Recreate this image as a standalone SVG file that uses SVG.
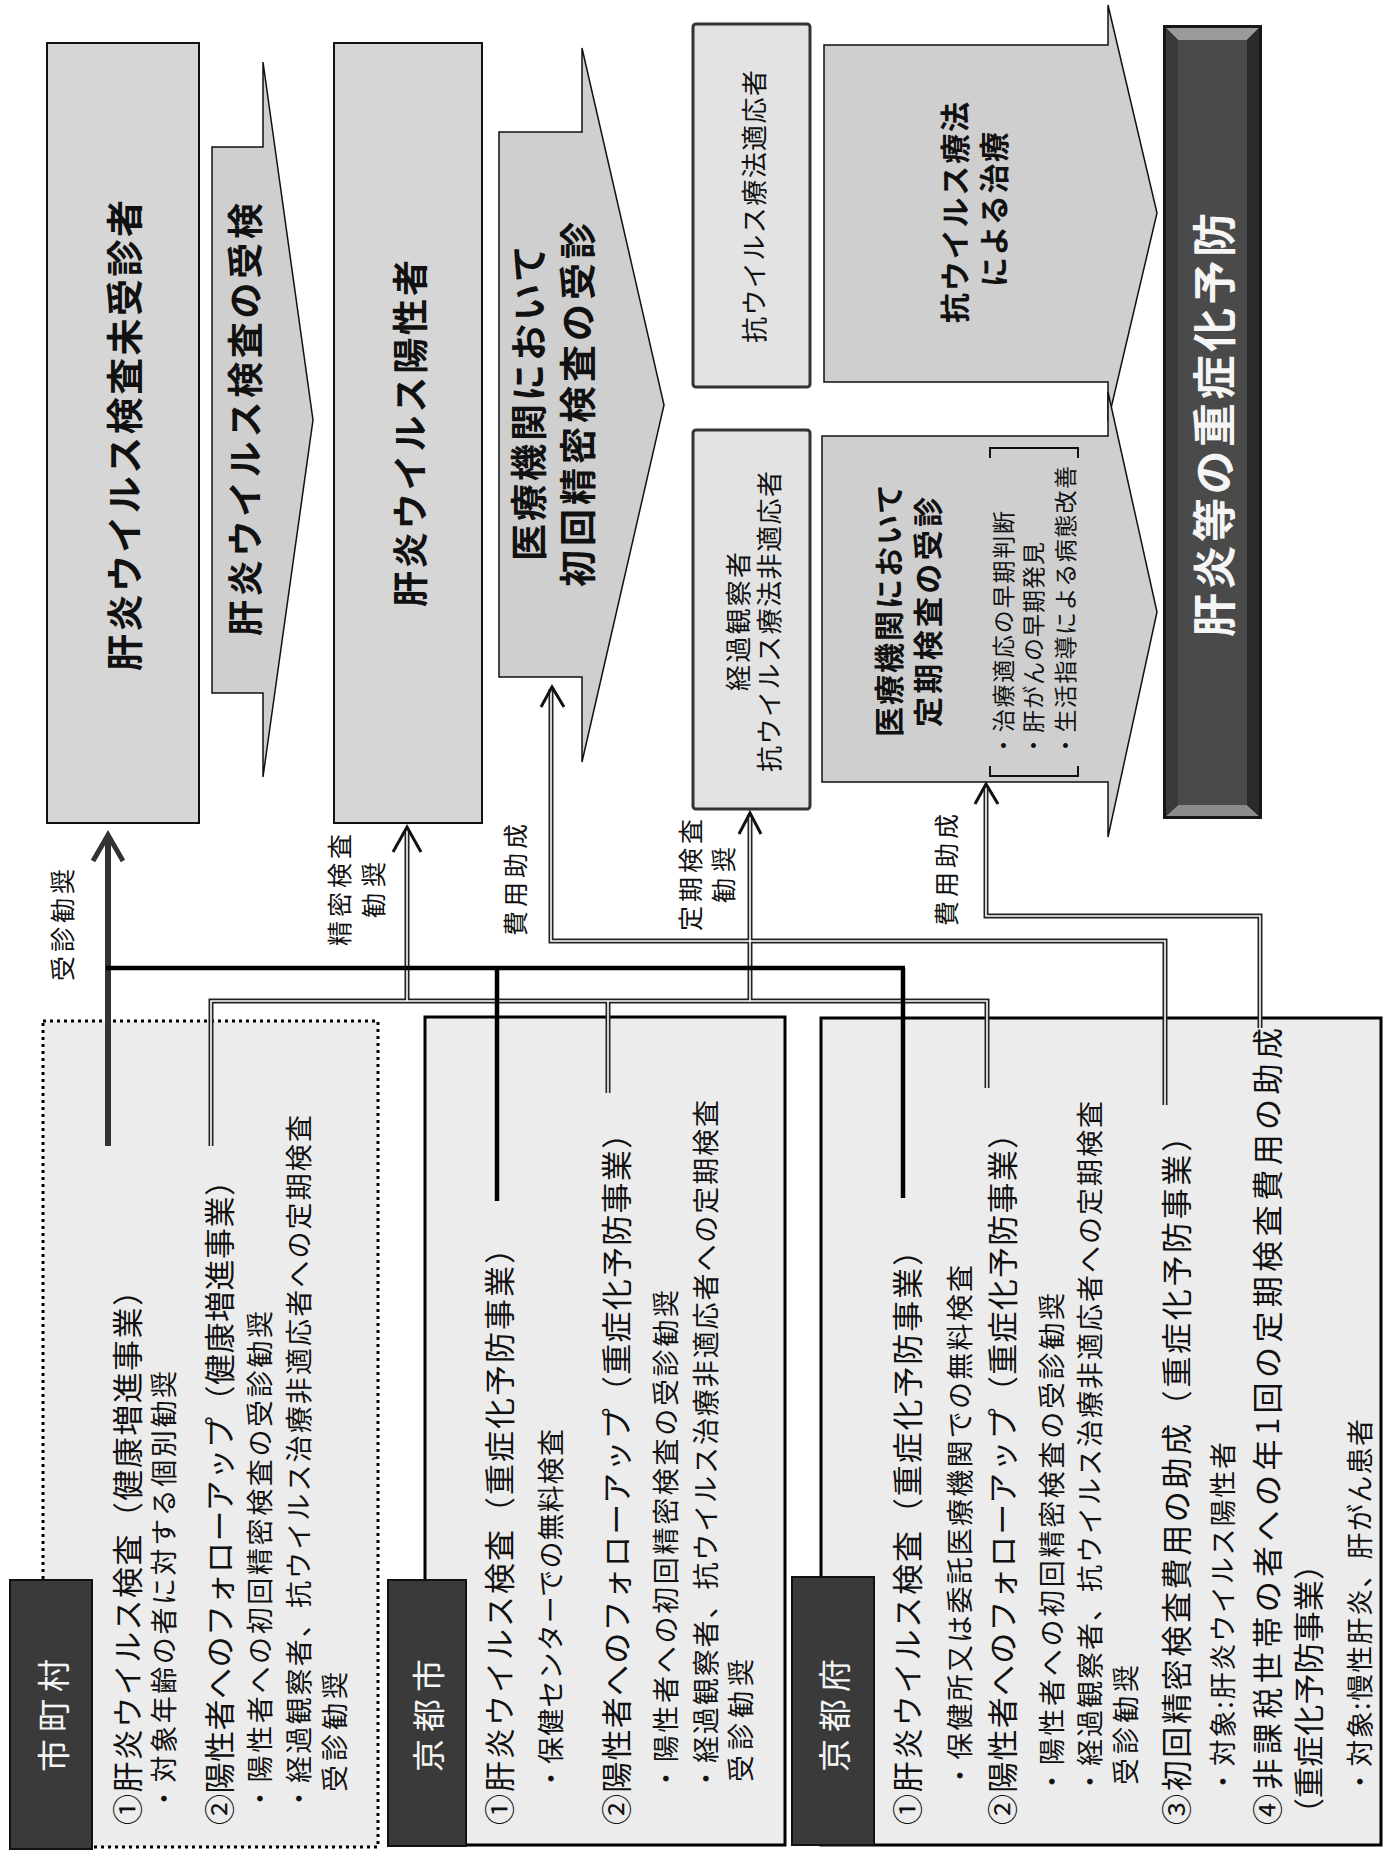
<svg xmlns="http://www.w3.org/2000/svg" width="1392" height="1856" viewBox="0 0 1392 1856">
<style>
.t{font-family:"Noto Sans CJK JP","Noto Sans",sans-serif;dominant-baseline:central;fill:#111}
.b{font-weight:bold}
.w{fill:#f5f5f5}
.flow{fill:#d6d6d6;stroke:#111;stroke-width:2}
.flow2{fill:#cfcfcf;stroke:#111;stroke-width:1.5}
.sm{fill:#e3e3e3;stroke:#333;stroke-width:3}
.bx{fill:#ececec;stroke:#000;stroke-width:3}
.tab{fill:#3a3a3a;stroke:#111;stroke-width:2}
.dbl{fill:none;stroke:#222;stroke-width:5}
.dblin{fill:none;stroke:#fff;stroke-width:1.6}
.ah{fill:none;stroke:#111;stroke-width:3;stroke-linejoin:miter}
</style>
<rect width="1392" height="1856" fill="#fff"/>

<!-- flow nodes -->
<g id="node-misyushin">
<rect class="flow" x="47" y="43" width="152" height="780"/>
<text class="t b" font-size="37" textLength="471" transform="translate(123,671) rotate(-90)">肝炎ウイルス検査未受診者</text>
</g>
<g id="node-jyuken">
<polygon class="flow2" points="212,147 263,147 263,62 313,420 263,777 263,693 212,693"/>
<text class="t b" font-size="36" textLength="433" transform="translate(243,636) rotate(-90)">肝炎ウイルス検査の受検</text>
</g>
<g id="node-yousei">
<rect class="flow" x="334" y="43" width="148" height="780"/>
<text class="t b" font-size="36" textLength="347" transform="translate(408,607) rotate(-90)">肝炎ウイルス陽性者</text>
</g>
<g id="node-shokai">
<polygon class="flow2" points="499,132 582,132 582,48 664,405 582,762 582,677 499,677"/>
<text class="t b" font-size="37" textLength="316" transform="translate(527,561) rotate(-90)">医療機関において</text>
<text class="t b" font-size="37" textLength="365" transform="translate(576,587) rotate(-90)">初回精密検査の受診</text>
</g>
<g id="node-tekiou">
<rect class="sm" x="693" y="24" width="117" height="363" rx="3"/>
<text class="t" font-size="26" textLength="273" transform="translate(752,343) rotate(-90)">抗ウイルス療法適応者</text>
</g>
<g id="node-hitekiou">
<rect class="sm" x="693" y="430" width="117" height="379" rx="3"/>
<text class="t" font-size="26" textLength="139" transform="translate(736,691) rotate(-90)">経過観察者</text>
<text class="t" font-size="26" textLength="301" transform="translate(767,772) rotate(-90)">抗ウイルス療法非適応者</text>
</g>
<g id="node-chiryo">
<polygon class="flow2" fill="#d8d8d8" points="824,45 1108,45 1108,5 1157,213 1108,421 1108,382 824,382"/>
<text class="t b" font-size="30" textLength="221" transform="translate(953,323) rotate(-90)">抗ウイルス療法</text>
<text class="t b" font-size="30" textLength="155" transform="translate(992,287) rotate(-90)">による治療</text>
</g>
<g id="node-teiki">
<polygon class="flow2" fill="#d8d8d8" points="822,436 1108,436 1108,392 1157,612 1108,837 1108,782 822,782"/>
<text class="t b" font-size="30" textLength="253" transform="translate(887,737) rotate(-90)">医療機関において</text>
<text class="t b" font-size="30" textLength="230" transform="translate(926,727) rotate(-90)">定期検査の受診</text>
<path d="M990,458 V448 H1078 V458 M990,766 V776 H1078 V766" fill="none" stroke="#111" stroke-width="2"/>
<text class="t" font-size="23" textLength="246" transform="translate(1002,757) rotate(-90)">・治療適応の早期判断</text>
<text class="t" font-size="23" textLength="215" transform="translate(1032,757) rotate(-90)">・肝がんの早期発見</text>
<text class="t" font-size="23" textLength="291" transform="translate(1064,757) rotate(-90)">・生活指導による病態改善</text>
</g>
<g id="node-goal">
<rect x="1163" y="25" width="99" height="794" fill="#161616"/>
<polygon points="1166,28 1259,28 1247,40 1178,40" fill="#9a9a9a"/>
<polygon points="1166,816 1259,816 1247,805 1178,805" fill="#8c8c8c"/>
<polygon points="1166,28 1178,40 1178,805 1166,816" fill="#3a3a3a"/>
<polygon points="1259,28 1247,40 1247,805 1259,816" fill="#2a2a2a"/>
<rect x="1178" y="40" width="69" height="765" fill="#4a4a4a"/>
<text class="t b w" font-size="44" textLength="424" transform="translate(1212,637) rotate(-90)">肝炎等の重症化予防</text>
</g>

<!-- bottom boxes -->
<g id="node-shichoson">
<rect class="bx" x="43" y="1021" width="335" height="826" stroke-dasharray="3 4"/>
<text class="t" font-size="31" textLength="550" transform="translate(125,1825) rotate(-90)">①肝炎ウイルス検査（健康増進事業）</text>
<text class="t" font-size="27" textLength="441" transform="translate(162,1812) rotate(-90)">・対象年齢の者に対する個別勧奨</text>
<text class="t" font-size="31" textLength="660" transform="translate(217,1825) rotate(-90)">②陽性者へのフォローアップ（健康増進事業）</text>
<text class="t" font-size="27" textLength="501" transform="translate(258,1812) rotate(-90)">・陽性者への初回精密検査の受診勧奨</text>
<text class="t" font-size="27" textLength="697" transform="translate(297,1812) rotate(-90)">・経過観察者、抗ウイルス治療非適応者への定期検査</text>
<text class="t" font-size="27" textLength="120" transform="translate(333,1792) rotate(-90)">受診勧奨</text>
<rect class="tab" x="10" y="1580" width="82" height="269"/>
<text class="t w" font-size="33" textLength="113" transform="translate(52,1772) rotate(-90)">市町村</text>
</g>
<g id="node-kyotoshi">
<rect class="bx" x="425" y="1017" width="360" height="828"/>
<text class="t" font-size="31" textLength="592" transform="translate(497,1825) rotate(-90)">①肝炎ウイルス検査（重症化予防事業）</text>
<text class="t" font-size="27" textLength="363" transform="translate(549,1792) rotate(-90)">・保健センターでの無料検査</text>
<text class="t" font-size="31" textLength="707" transform="translate(614,1825) rotate(-90)">②陽性者へのフォローアップ（重症化予防事業）</text>
<text class="t" font-size="27" textLength="502" transform="translate(664,1792) rotate(-90)">・陽性者への初回精密検査の受診勧奨</text>
<text class="t" font-size="27" textLength="692" transform="translate(704,1792) rotate(-90)">・経過観察者、抗ウイルス治療非適応者への定期検査</text>
<text class="t" font-size="27" textLength="123" transform="translate(739,1782) rotate(-90)">受診勧奨</text>
<rect class="tab" x="388" y="1580" width="78" height="266"/>
<text class="t w" font-size="33" textLength="113" transform="translate(427,1772) rotate(-90)">京都市</text>
</g>
<g id="node-kyotofu">
<rect class="bx" x="821" y="1018" width="560" height="827"/>
<text class="t" font-size="31" textLength="590" transform="translate(905,1825) rotate(-90)">①肝炎ウイルス検査（重症化予防事業）</text>
<text class="t" font-size="27" textLength="524" transform="translate(958,1789) rotate(-90)">・保健所又は委託医療機関での無料検査</text>
<text class="t" font-size="31" textLength="707" transform="translate(1000,1825) rotate(-90)">②陽性者へのフォローアップ（重症化予防事業）</text>
<text class="t" font-size="27" textLength="502" transform="translate(1050,1795) rotate(-90)">・陽性者への初回精密検査の受診勧奨</text>
<text class="t" font-size="27" textLength="694" transform="translate(1088,1795) rotate(-90)">・経過観察者、抗ウイルス治療非適応者への定期検査</text>
<text class="t" font-size="27" textLength="120" transform="translate(1124,1785) rotate(-90)">受診勧奨</text>
<text class="t" font-size="31" textLength="704" transform="translate(1174,1825) rotate(-90)">③初回精密検査費用の助成（重症化予防事業）</text>
<text class="t" font-size="27" textLength="353" transform="translate(1221,1795) rotate(-90)">・対象:肝炎ウイルス陽性者</text>
<text class="t" font-size="31" textLength="797" transform="translate(1265,1825) rotate(-90)">④非課税世帯の者への年1回の定期検査費用の助成</text>
<text class="t" font-size="31" textLength="280" transform="translate(1306,1829) rotate(-90)">（重症化予防事業）</text>
<text class="t" font-size="27" textLength="376" transform="translate(1358,1795) rotate(-90)">・対象:慢性肝炎、肝がん患者</text>
<rect class="tab" x="792" y="1577" width="82" height="268"/>
<text class="t w" font-size="33" textLength="113" transform="translate(833,1772) rotate(-90)">京都府</text>
</g>

<!-- connectors -->
<g id="connectors">
<path class="dbl" d="M211,1146 V1001 H987 V1088 M407,1001 V829 M608,1001 V1093 M750,1001 V815 M551,689 V941 H1165 V1105 M986,787 V916 H1260 V1028"/>
<path class="dblin" d="M211,1146 V1001 H987 V1088 M407,1001 V829 M608,1001 V1093 M750,1001 V815 M551,689 V941 H1165 V1105 M986,787 V916 H1260 V1028"/>
<polyline class="ah" points="393,852 407,827 421,852"/>
<polyline class="ah" points="739,834 750,813 761,834"/>
<polyline class="ah" points="541,707 552,687 564,707"/>
<polyline class="ah" points="975,804 986,784 998,804"/>
<line x1="108" y1="1146" x2="108" y2="838" stroke="#333" stroke-width="6"/>
<polyline points="93,861 108,835 123,861" fill="none" stroke="#333" stroke-width="5"/>
<path d="M106,968 H905 M497,968 V1201 M903,968 V1198" fill="none" stroke="#000" stroke-width="4.5"/>
<text class="t" font-size="25" textLength="112" transform="translate(61,981) rotate(-90)">受診勧奨</text>
<text class="t" font-size="25" textLength="112" transform="translate(338,946) rotate(-90)">精密検査</text>
<text class="t" font-size="25" textLength="56" transform="translate(372,918) rotate(-90)">勧奨</text>
<text class="t" font-size="25" textLength="112" transform="translate(514,936) rotate(-90)">費用助成</text>
<text class="t" font-size="25" textLength="112" transform="translate(689,931) rotate(-90)">定期検査</text>
<text class="t" font-size="25" textLength="56" transform="translate(722,903) rotate(-90)">勧奨</text>
<text class="t" font-size="25" textLength="112" transform="translate(945,926) rotate(-90)">費用助成</text>
</g>
</svg>
